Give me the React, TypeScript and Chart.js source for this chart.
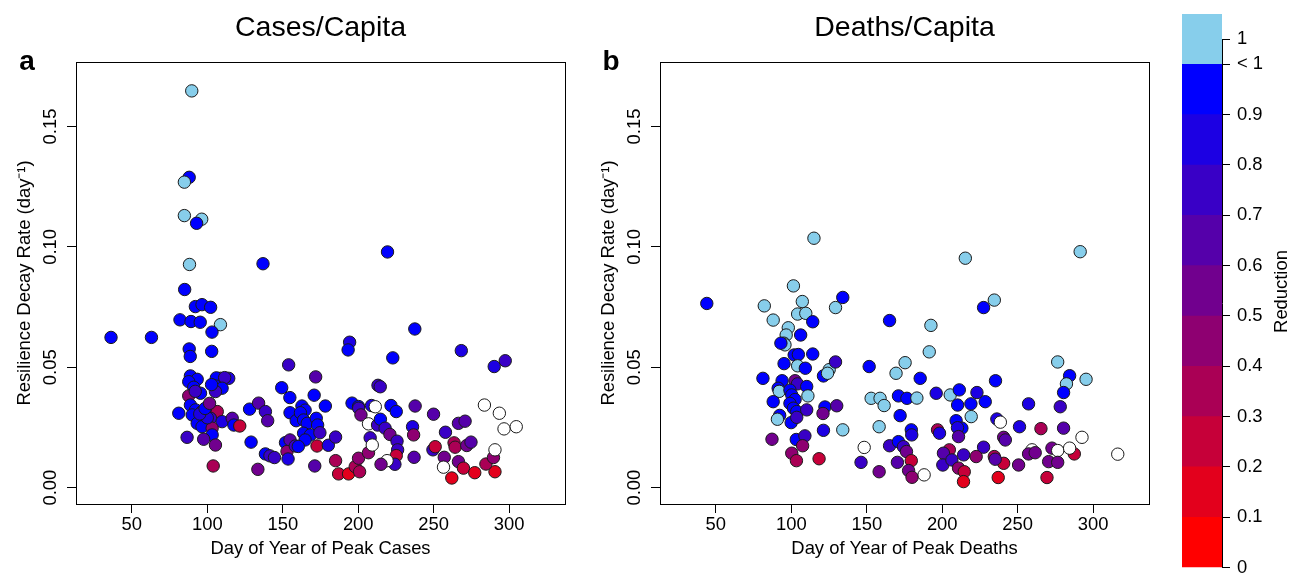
import React, { useEffect, useRef } from "react";
import { Chart, registerables } from "chart.js";

Chart.register(...registerables);

// ---------- Panel a: Cases/Capita ----------
const casesDay = [
  89.7, 88.0, 84.8, 84.8, 96.3, 92.9, 88.2, 136.9, 219.4, 85.0,
  92.1, 96.5, 102.2, 81.9, 89.2, 95.3, 108.7, 103.1, 36.2, 63.0,
  237.5, 194.3, 193.3, 268.3, 222.9, 88.0, 88.7, 102.9, 153.9, 290.1,
  297.4, 171.8, 213.1, 214.6, 149.3, 154.7, 170.8,
  88.8, 93.3, 87.7, 91.0, 108.7, 114.2, 106.0, 111.5, 105.4, 109.8,
  105.4, 102.8, 87.7, 95.5, 92.0, 88.8, 92.2, 90.0, 81.1, 99.9,
  106.6, 96.5, 102.1, 109.8, 116.5, 117.6, 121.5, 93.3, 96.5, 103.2,
  103.2, 86.6, 97.6, 105.4, 103.9, 100.0, 95.0, 98.5, 101.5,
  128.0, 134.0, 138.5, 140.0, 129.0, 138.5, 141.5, 144.5, 133.5, 151.8,
  154.8, 152.8, 153.5, 158.3, 154.8, 158.9, 162.7, 164.8, 161.7, 163.8,
  166.2, 172.2, 173.1, 178.2, 163.8, 168.3, 164.8, 160.3, 174.6, 172.7,
  171.2, 180.2, 185.0, 185.0, 187.0, 193.6, 198.0, 200.9, 200.2, 206.8,
  195.9, 200.2, 200.3, 201.8, 208.8, 211.3, 206.8, 207.9, 209.3, 212.8,
  214.7, 217.8, 221.0, 221.7, 225.2, 225.7, 226.1, 225.2, 224.3, 219.1,
  215.1, 237.7, 236.0, 236.7, 237.0, 249.9, 249.5, 251.0, 257.0, 257.8,
  266.4, 270.8, 263.5, 264.2, 271.9, 274.7, 266.4, 269.7, 262.0, 277.2,
  290.6, 284.6, 289.6, 290.6, 256.5, 283.6, 293.5, 296.6, 304.7
];
const casesRate = [
  0.1648, 0.1289, 0.1269, 0.1130, 0.1115, 0.1098, 0.0927, 0.0930, 0.0979, 0.0823,
  0.0752, 0.0760, 0.0749, 0.0697, 0.0690, 0.0687, 0.0677, 0.0646, 0.0624, 0.0624,
  0.0659, 0.0604, 0.0572, 0.0569, 0.0539, 0.0576, 0.0545, 0.0566, 0.0510, 0.0503,
  0.0527, 0.0460, 0.0425, 0.0419, 0.0415, 0.0374, 0.0384,
  0.0464, 0.0450, 0.0440, 0.0417, 0.0454, 0.0454, 0.0456, 0.0457, 0.0422, 0.0413,
  0.0399, 0.0428, 0.0381, 0.0392, 0.0400, 0.0343, 0.0323, 0.0302, 0.0309, 0.0330,
  0.0316, 0.0316, 0.0288, 0.0274, 0.0288, 0.0260, 0.0256, 0.0267, 0.0253, 0.0247,
  0.0219, 0.0209, 0.0201, 0.0177, 0.0090, 0.0290, 0.0306, 0.0329, 0.0350,
  0.0326, 0.0351, 0.0316, 0.0278, 0.0189, 0.0140, 0.0132, 0.0125, 0.0076, 0.0187,
  0.0198, 0.0150, 0.0119, 0.0173, 0.0311, 0.0278, 0.0339, 0.0322, 0.0311, 0.0281,
  0.0267, 0.0288, 0.0260, 0.0339, 0.0226, 0.0219, 0.0198, 0.0171, 0.0228, 0.0173,
  0.0090, 0.0176, 0.0210, 0.0112, 0.0057, 0.0057, 0.0087, 0.0066, 0.0122, 0.0145,
  0.0351, 0.0337, 0.0330, 0.0302, 0.0341, 0.0336, 0.0265, 0.0207, 0.0177, 0.0260,
  0.0284, 0.0247, 0.0221, 0.0341, 0.0316, 0.0193, 0.0157, 0.0133, 0.0097, 0.0112,
  0.0097, 0.0339, 0.0253, 0.0219, 0.0126, 0.0305, 0.0157, 0.0170, 0.0126, 0.0230,
  0.0267, 0.0276, 0.0186, 0.0168, 0.0175, 0.0189, 0.0108, 0.0081, 0.0040, 0.0062,
  0.0066, 0.0098, 0.0125, 0.0157, 0.0085, 0.0343, 0.0309, 0.0244, 0.0253
];
const casesReduction = [
  1, 0.95, 1, 1, 1, 0.95, 1, 0.95, 0.95, 0.95,
  0.95, 0.95, 0.95, 0.95, 0.95, 0.95, 1, 0.95, 0.95, 0.95,
  0.95, 0.85, 0.95, 0.85, 0.95, 0.95, 0.95, 0.95, 0.75, 0.85,
  0.75, 0.65, 0.75, 0.75, 0.95, 0.95, 0.95,
  0.95, 0.95, 0.95, 0.95, 0.65, 0.85, 0.95, 0.75, 0.95, 0.95,
  0.75, 0.95, 0.45, 0.95, 0.75, 0.95, 0.95, 0.95, 0.95, 0.75,
  0.35, 0.65, 0.75, 0.85, 0.65, 0.95, 0.25, 0.95, 0.95, 0.45,
  0.95, 0.75, 0.65, 0.55, 0.35, 0.85, 0.85, 0.95, 0.55,
  0.95, 0.65, 0.75, 0.65, 0.95, 0.95, 0.75, 0.75, 0.55, 0.95,
  0.65, 0.45, 0.85, 0.75, 0.95, 0.95, 0.95, 0.95, 0.95, 0.95,
  0.95, 0.95, 0.95, 0.95, 0.95, 0.95, 0.95, 0.95, 0.75, 0.25,
  0.65, 0.85, 0.75, 0.35, 0.25, 0.15, 0.35, 0.35, 0.45, 0.45,
  0.95, 0.95, 0.75, 0.55, 0.85, null, null, 0.75, null, 0.75,
  0.95, 0.75, 0.55, 0.95, 0.95, 0.75, 0.75, 0.25, 0.75, null,
  0.55, 0.65, 0.85, 0.45, 0.65, 0.65, 0.75, 0.25, 0.55, 0.75,
  0.65, 0.65, 0.35, 0.35, 0.55, 0.65, 0.55, 0.25, 0.15, 0.15,
  0.15, 0.35, 0.45, null, null, null, null, null, null
];

// ---------- Panel b: Deaths/Capita ----------
const deathsDay = [
  44.0, 115.0, 101.4, 82.1, 107.3, 104.2, 109.6, 88.0, 114.2, 129.3,
  134.1, 165.1, 98.0, 96.6, 95.1, 95.8, 106.2, 93.1, 101.9, 104.7,
  114.2, 95.2, 104.2, 109.3, 121.3, 125.1, 124.0, 129.3, 151.6, 175.4,
  169.4, 185.4, 81.2, 93.9, 102.5, 104.1, 110.2, 91.3, 92.0, 99.1,
  100.3, 102.5, 111.0, 88.0, 99.1, 101.4, 103.6, 110.2, 122.3, 130.1,
  121.0, 92.3, 90.8, 99.9, 103.6, 121.3, 134.1, 158.2, 172.1, 87.2,
  103.3, 109.0, 107.5, 100.3, 103.4, 118.4, 148.3, 146.2, 158.2, 170.3,
  165.1, 171.0, 174.3, 176.3, 179.5, 179.8, 179.5, 177.7, 180.0, 152.9,
  158.8, 161.5, 171.0, 176.6, 183.2, 215.3, 291.4, 227.4, 234.5, 192.5,
  191.4, 276.5, 284.4, 282.3, 295.3, 280.4, 278.2, 280.4, 265.4, 257.2,
  251.2, 235.3, 196.0, 205.3, 211.3, 210.2, 219.0, 223.0, 228.5, 219.2,
  209.2, 213.0, 210.1, 210.8, 236.2, 238.5, 240.7, 241.8, 196.9, 198.2,
  227.4, 292.6, 316.3, 287.5, 272.7, 276.5, 284.4, 270.5, 276.5, 269.4,
  259.5, 257.2, 261.6, 250.6, 240.7, 237.1, 234.5, 235.1, 222.5, 214.2,
  204.7, 200.8, 200.4, 206.4, 210.8, 214.6, 214.1, 188.0
];
const deathsRate = [
  0.0765, 0.1036, 0.0838, 0.0755, 0.0773, 0.0721, 0.0724, 0.0696, 0.0689, 0.0748,
  0.0790, 0.0694, 0.0664, 0.0634, 0.0600, 0.0593, 0.0634, 0.0600, 0.0551, 0.0553,
  0.0555, 0.0515, 0.0506, 0.0496, 0.0464, 0.0490, 0.0475, 0.0522, 0.0503, 0.0519,
  0.0475, 0.0454, 0.0454, 0.0444, 0.0444, 0.0431, 0.0420, 0.0413, 0.0400, 0.0405,
  0.0385, 0.0366, 0.0381, 0.0357, 0.0350, 0.0330, 0.0316, 0.0323, 0.0335, 0.0340,
  0.0308, 0.0300, 0.0284, 0.0270, 0.0292, 0.0238, 0.0240, 0.0253, 0.0299, 0.0201,
  0.0200, 0.0215, 0.0174, 0.0143, 0.0112, 0.0120, 0.0167, 0.0105, 0.0066, 0.0105,
  0.0174, 0.0191, 0.0170, 0.0150, 0.0240, 0.0219, 0.0112, 0.0071, 0.0043, 0.0371,
  0.0371, 0.0341, 0.0381, 0.0371, 0.0372, 0.0953, 0.0980, 0.0748, 0.0779, 0.0674,
  0.0564, 0.0522, 0.0465, 0.0431, 0.0450, 0.0395, 0.0336, 0.0247, 0.0245, 0.0348,
  0.0253, 0.0444, 0.0392, 0.0385, 0.0406, 0.0343, 0.0348, 0.0395, 0.0357, 0.0295,
  0.0278, 0.0247, 0.0249, 0.0212, 0.0285, 0.0272, 0.0209, 0.0198, 0.0240, 0.0226,
  0.0168, 0.0209, 0.0139, 0.0140, 0.0164, 0.0154, 0.0164, 0.0108, 0.0105, 0.0042,
  0.0157, 0.0140, 0.0145, 0.0094, 0.0101, 0.0042, 0.0129, 0.0118, 0.0129, 0.0136,
  0.0157, 0.0143, 0.0094, 0.0115, 0.0081, 0.0066, 0.0025, 0.0053
];
const deathsReduction = [
  0.95, 1, 1, 1, 1, 1, 1, 1, 0.95, 1,
  0.95, 0.95, 1, 1, 1, 1, 0.95, 0.95, 0.95, 0.95,
  0.95, 0.95, 1, 0.95, 0.95, 1, 1, 0.75, 0.95, 1,
  1, 0.95, 0.95, 0.95, 0.55, 0.75, 0.95, 0.95, 1, 0.95,
  0.95, 0.95, 1, 0.95, 0.95, 0.95, 0.95, 0.75, 0.95, 0.65,
  0.55, 0.95, 1, 0.95, 0.75, 0.85, 1, 1, 0.95, 0.55,
  0.95, 0.75, 0.45, 0.45, 0.35, 0.25, null, 0.75, 0.55, 0.65,
  0.75, 0.95, 0.75, 0.55, 0.95, 0.85, 0.25, 0.55, 0.45, 1,
  1, 1, 0.95, 0.95, 1, 1, 1, 0.95, 1, 1,
  1, 1, 0.95, 1, 1, 0.95, 0.75, 0.65, 0.35, 0.85,
  0.85, 0.95, 0.85, 1, 0.95, 0.95, 0.95, 0.85, 0.95, 1,
  0.95, 0.95, 0.85, 0.65, 0.85, null, 0.55, 0.65, 0.35, 0.85,
  0.75, null, null, 0.25, 0.55, null, null, 0.55, 0.55, 0.25,
  null, 0.55, 0.55, 0.55, 0.25, 0.15, 0.35, 0.65, 0.45, 0.75,
  0.35, 0.65, 0.75, 0.75, 0.45, 0.25, 0.15, null
];

// ---------- Axes & colour scale ----------
const xTickValues = [50, 100, 150, 200, 250, 300];
const yTickValues = [0, 0.05, 0.1, 0.15];
const colorbarBreaks = [0, 0.1, 0.2, 0.3, 0.4, 0.5, 0.6, 0.7, 0.8, 0.9, 1.0, 1.1];
const colorbarColors = [
  "#FF0000", "#E3001C", "#C60039", "#AA0055", "#8E0071",
  "#71008E", "#5500AA", "#3900C6", "#1C00E3", "#0000FF", "#87CEEB"
];
const colorbarTickValues = [0, 0.1, 0.2, 0.3, 0.4, 0.5, 0.6, 0.7, 0.8, 0.9, 1.0, 1.05];
const colorbarTickLabels = ["0", "0.1", "0.2", "0.3", "0.4", "0.5", "0.6", "0.7", "0.8", "0.9", "< 1", "1"];

const FONT = "'Liberation Sans', Arial, Helvetica, sans-serif";
const FS = 18.4;

function reductionColor(r: number | null): string {
  if (r === null || r === undefined) return "#FFFFFF";
  if (r >= 1) return colorbarColors[10];
  return colorbarColors[Math.min(9, Math.floor(r * 10))];
}

function panelConfig(
  days: number[],
  rates: number[],
  reds: (number | null)[],
  title: string,
  letter: string,
  xTitle: string
): any {
  const decor = {
    id: "decor",
    afterDraw(chart: any) {
      const { ctx, chartArea: a } = chart;
      ctx.save();
      ctx.strokeStyle = "#000";
      ctx.lineWidth = 1;
      ctx.strokeRect(
        Math.round(a.left) + 0.5,
        Math.round(a.top) + 0.5,
        Math.round(a.right - a.left),
        Math.round(a.bottom - a.top)
      );
      ctx.fillStyle = "#000";
      ctx.textAlign = "center";
      ctx.textBaseline = "alphabetic";
      ctx.font = `28.5px ${FONT}`;
      ctx.fillText(title, (a.left + a.right) / 2, 36);
      ctx.font = `bold 28px ${FONT}`;
      ctx.fillText(letter, 27, 70);
      ctx.restore();
    },
  };
  const gridOpts = {
    display: true,
    drawOnChartArea: false,
    drawTicks: true,
    tickLength: 9,
    color: "#000",
    lineWidth: 1,
  };
  return {
    type: "scatter",
    data: {
      datasets: [
        {
          data: days.map((d, i) => ({ x: d, y: rates[i] })),
          pointBackgroundColor: reds.map(reductionColor),
          pointBorderColor: "#1a1a1a",
          pointBorderWidth: 1,
          pointRadius: 6.2,
          pointHoverRadius: 6.2,
          showLine: false,
        },
      ],
    },
    options: {
      responsive: false,
      animation: false,
      events: [],
      layout: { padding: { left: 0, top: 62, right: 20, bottom: 0 } },
      plugins: {
        legend: { display: false },
        tooltip: { enabled: false },
        title: { display: false },
      },
      scales: {
        x: {
          type: "linear",
          min: 13,
          max: 337,
          afterBuildTicks: (s: any) => {
            s.ticks = xTickValues.map((v) => ({ value: v }));
          },
          afterFit: (s: any) => {
            s.height = 71;
          },
          grid: gridOpts,
          border: { display: false },
          ticks: {
            color: "#000",
            font: { family: FONT, size: FS },
            padding: 1,
            maxRotation: 0,
            autoSkip: false,
          },
          title: {
            display: true,
            text: xTitle,
            color: "#000",
            font: { family: FONT, size: FS },
            padding: { top: 0, bottom: 15 },
          },
        },
        y: {
          type: "linear",
          min: -0.0068,
          max: 0.1768,
          afterBuildTicks: (s: any) => {
            s.ticks = yTickValues.map((v) => ({ value: v }));
          },
          afterFit: (s: any) => {
            s.width = 76;
          },
          grid: gridOpts,
          border: { display: false },
          ticks: {
            color: "#000",
            font: { family: FONT, size: FS },
            minRotation: 90,
            maxRotation: 90,
            crossAlign: "center",
            padding: -2,
            autoSkip: false,
            callback: (v: any) => Number(v).toFixed(2),
          },
          title: {
            display: true,
            text: "Resilience Decay Rate (day\u207B\u00B9)",
            color: "#000",
            font: { family: FONT, size: FS },
            padding: { top: 14, bottom: 0 },
          },
        },
      },
    },
    plugins: [decor],
  };
}

function colorbarConfig(): any {
  const decor = {
    id: "cbdecor",
    afterDraw(chart: any) {
      const { ctx, chartArea: a, scales } = chart;
      const ys = scales.y;
      ctx.save();
      ctx.strokeStyle = "#000";
      ctx.lineWidth = 1;
      const x = Math.round(a.right) + 0.5;
      ctx.beginPath();
      ctx.moveTo(x, ys.getPixelForValue(colorbarTickValues[colorbarTickValues.length - 1]));
      ctx.lineTo(x, ys.getPixelForValue(colorbarTickValues[0]));
      ctx.stroke();
      ctx.fillStyle = "#000";
      ctx.font = `${FS}px ${FONT}`;
      ctx.textAlign = "center";
      ctx.textBaseline = "middle";
      ctx.translate(112, 291.5);
      ctx.rotate(-Math.PI / 2);
      ctx.fillText("Reduction", 0, 0);
      ctx.restore();
    },
  };
  return {
    type: "bar",
    data: {
      labels: [""],
      datasets: colorbarColors.map((c, i) => ({
        data: [[colorbarBreaks[i], colorbarBreaks[i + 1]]],
        backgroundColor: c,
        borderWidth: 0,
        grouped: false,
        barPercentage: 1,
        categoryPercentage: 1,
      })),
    },
    options: {
      responsive: false,
      animation: false,
      events: [],
      layout: { padding: { left: 12, top: 14, right: 0, bottom: 7.4 } },
      plugins: { legend: { display: false }, tooltip: { enabled: false } },
      scales: {
        x: { display: false },
        y: {
          position: "right",
          min: 0,
          max: 1.1,
          afterBuildTicks: (s: any) => {
            s.ticks = colorbarTickValues.map((v) => ({ value: v }));
          },
          afterFit: (s: any) => {
            s.width = 80;
            s.paddingTop = 0;
            s.paddingBottom = 0;
          },
          grid: {
            display: true,
            drawOnChartArea: false,
            drawTicks: true,
            tickLength: 8,
            color: "#000",
            lineWidth: 1,
          },
          border: { display: false },
          ticks: {
            color: "#000",
            font: { family: FONT, size: FS },
            padding: 7,
            autoSkip: false,
            callback: (v: any, i: number) => colorbarTickLabels[i],
          },
        },
      },
    },
    plugins: [decor],
  };
}

export default function App() {
  const refA = useRef<HTMLCanvasElement>(null);
  const refB = useRef<HTMLCanvasElement>(null);
  const refC = useRef<HTMLCanvasElement>(null);

  useEffect(() => {
    const charts: Chart[] = [];
    if (refA.current)
      charts.push(
        new Chart(
          refA.current,
          panelConfig(casesDay, casesRate, casesReduction, "Cases/Capita", "a", "Day of Year of Peak Cases")
        )
      );
    if (refB.current)
      charts.push(
        new Chart(
          refB.current,
          panelConfig(deathsDay, deathsRate, deathsReduction, "Deaths/Capita", "b", "Day of Year of Peak Deaths")
        )
      );
    if (refC.current) charts.push(new Chart(refC.current, colorbarConfig()));
    return () => {
      charts.forEach((c) => c.destroy());
    };
  }, []);

  return (
    <div
      style={{
        position: "fixed",
        left: 0,
        top: 0,
        width: 1302,
        height: 575,
        background: "#fff",
        overflow: "hidden",
      }}
    >
      <canvas
        ref={refA}
        width={585}
        height={575}
        style={{ position: "absolute", left: 0, top: 0, width: 585, height: 575 }}
      />
      <canvas
        ref={refB}
        width={585}
        height={575}
        style={{ position: "absolute", left: 584, top: 0, width: 585, height: 575 }}
      />
      <canvas
        ref={refC}
        width={132}
        height={575}
        style={{ position: "absolute", left: 1170, top: 0, width: 132, height: 575 }}
      />
    </div>
  );
}
